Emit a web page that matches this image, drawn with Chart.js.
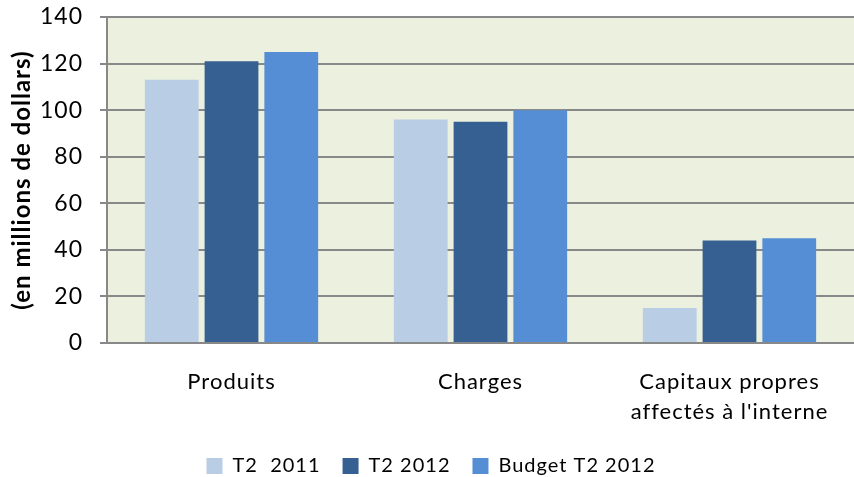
<!DOCTYPE html>
<html>
<head>
<meta charset="utf-8">
<script src="https://cdn.jsdelivr.net/npm/chart.js@4"></script>
<style>
  html, body { margin: 0; padding: 0; background: #fff; }
  #box { width: 854px; height: 477px; }
</style>
</head>
<body>
<div id="box"><canvas id="cadre"></canvas></div>
<script>
const categories = ["Produits", "Charges", ["Capitaux propres", "affectés à l'interne"]];
const seriesNames = ["T2  2011", "T2 2012", "Budget T2 2012"];
const t2_2011 = [113, 96, 15];
const t2_2012 = [121, 95, 44];
const budget2012 = [125, 100, 45];
const yTicks = [0, 20, 40, 60, 80, 100, 120, 140];

// fond du graphique + espacement des lettres (rendu plus proche de l'original)
const fond = {
  id: "fond",
  beforeInit(chart) {
    const fit = chart.legend.fit;
    chart.legend.fit = function () { fit.call(this); this.height = 43; };
  },
  beforeUpdate(chart) { chart.ctx.letterSpacing = "1px"; },
  beforeDraw(chart) {
    const { ctx, chartArea } = chart;
    ctx.letterSpacing = "1px";
    ctx.save();
    ctx.fillStyle = "#EBF0DF";
    ctx.fillRect(chartArea.left, chartArea.top, chartArea.right - chartArea.left, chartArea.bottom - chartArea.top);
    ctx.restore();
  }
};

const ctx = document.getElementById("cadre").getContext("2d");

new Chart(ctx, {
  type: "bar",
  data: {
    labels: categories,
    datasets: [
      { label: seriesNames[0], data: t2_2011, backgroundColor: "#B9CDE5" },
      { label: seriesNames[1], data: t2_2012, backgroundColor: "#366092" },
      { label: seriesNames[2], data: budget2012, backgroundColor: "#558ED5" }
    ]
  },
  options: {
    responsive: true,
    maintainAspectRatio: false,
    animation: false,
    datasets: { bar: { categoryPercentage: 0.72, barPercentage: 0.9 } },
    layout: { padding: { top: 0, right: 0, left: 8, bottom: 0 } },
    scales: {
      x: {
        grid: { display: false, drawTicks: false },
        border: { color: "#888888", width: 2 },
        ticks: { color: "#000", padding: 24, font: { family: "Lato", size: 22, lineHeight: 1.36 } },
        afterFit(scale) { scale.height = 91; }
      },
      y: {
        min: 0,
        max: 140,
        afterBuildTicks(axis) { axis.ticks = yTicks.map(v => ({ value: v })); },
        afterFit(scale) {
          scale.width = 99;
          scale.paddingTop = 17;
          scale.paddingBottom = 0;
        },
        grid: { color: "#888888", lineWidth: 2, tickLength: 7 },
        border: { color: "#888888", width: 2 },
        ticks: { color: "#000", padding: 17, font: { family: "Lato", size: 23 } },
        title: {
          display: true,
          text: "(en millions de dollars)",
          color: "#000",
          padding: { top: 0, bottom: 8 },
          font: { family: "Lato", size: 24, weight: "bold" }
        }
      }
    },
    plugins: {
      legend: {
        position: "bottom",
        labels: {
          color: "#000",
          boxWidth: 16,
          boxHeight: 16,
          padding: 22,
          font: { family: "Lato", size: 20 }
        }
      },
      tooltip: { enabled: false }
    }
  },
  plugins: [fond]
});
</script>
</body>
</html>
